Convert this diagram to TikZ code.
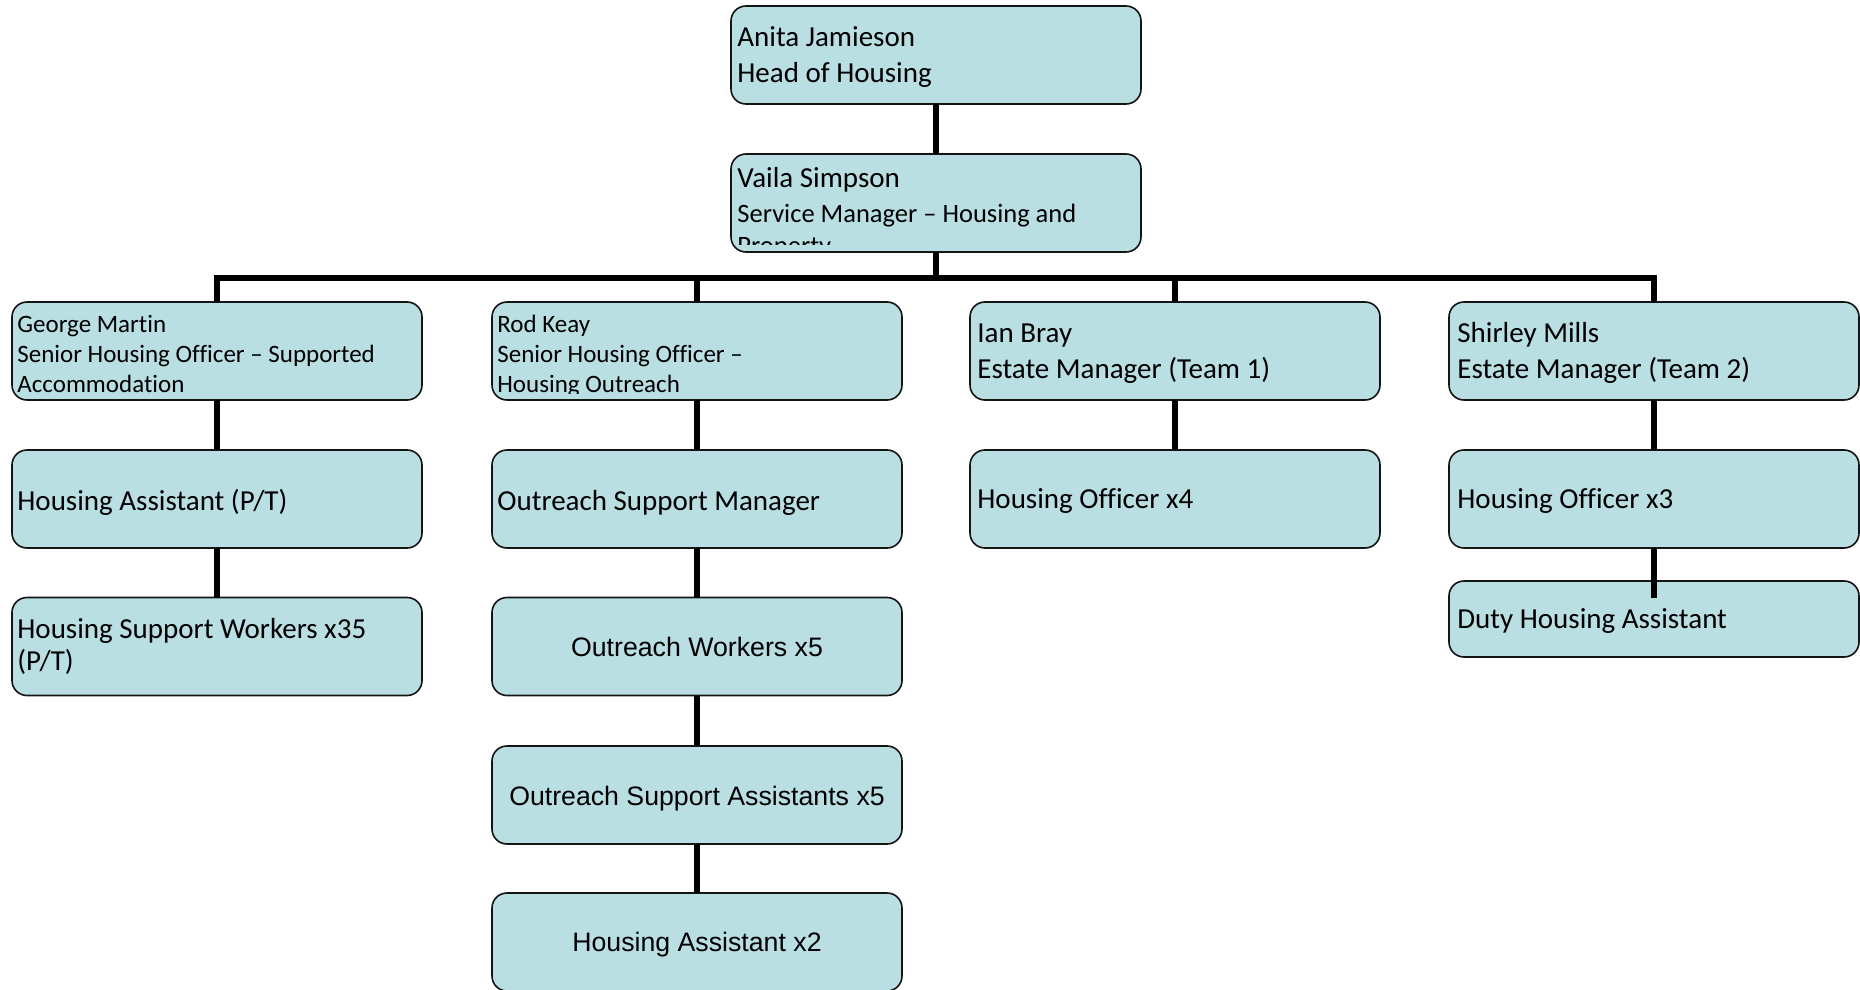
\documentclass[tikz,border=0pt]{standalone}
\usepackage{fontspec}
\newfontfamily\carl[Ligatures=NoCommon]{Carlito}
\newfontfamily\arl{Liberation Sans}
\definecolor{boxfill}{RGB}{185,223,227}
\definecolor{edge}{RGB}{20,20,20}
\begin{document}
\begin{tikzpicture}[x=0.5pt,y=-0.5pt,
 box/.style={draw=edge, line width=0.8pt, fill=boxfill, rounded corners=7.5pt, inner sep=0pt, outer sep=0pt, minimum width=205pt, minimum height=49pt},
 link/.style={line width=3pt, line join=miter},
 txt/.style={inner sep=0pt, anchor=base west, text=black},
 ctxt/.style={inner sep=0pt, anchor=base, text=black, font=\arl\fontsize{13.35}{16}\selectfont},
 big/.style={font=\carl\fontsize{14.5}{17}\selectfont},
 mid/.style={font=\carl\fontsize{13.25}{16}\selectfont},
 small/.style={font=\carl\fontsize{12.5}{15}\selectfont}]
\fill[white] (0,0) rectangle (1860,990);
\useasboundingbox (0,0) rectangle (1860,990);

% boxes (positions in px of the reference)
\coordinate (bar) at (936,278);
\coordinate (dutyend) at (1654,598);

\node[box] (anita) at (936,55) {};
\node[box] (vaila) at (936,203) {};
\node[box] (george) at (217,351) {};
\node[box] (rod) at (697,351) {};
\node[box] (ian) at (1175,351) {};
\node[box] (shirley) at (1654,351) {};
\node[box] (hasst) at (217,499) {};
\node[box] (osm) at (697,499) {};
\node[box] (hoff4) at (1175,499) {};
\node[box] (hoff3) at (1654,499) {};
\node[box] (hsw) at (217,646.5) {};
\node[box] (ow) at (697,646.5) {};
\node[box] (osa) at (697,795) {};
\node[box] (ha2) at (697,942) {};
\node[box, minimum height=38pt] (duty) at (1654,619) {};

% connectors
\draw[link] (anita.south) -- (vaila.north);
\draw[link] (vaila.south) -- (bar) -| (george.north);
\draw[link] (bar) -| (rod.north);
\draw[link] (bar) -| (ian.north);
\draw[link] (bar) -| (shirley.north);
\draw[link] (george.south) -- (hasst.north);
\draw[link] (hasst.south) -- (hsw.north);
\draw[link] (rod.south) -- (osm.north);
\draw[link] (osm.south) -- (ow.north);
\draw[link] (ow.south) -- (osa.north);
\draw[link] (osa.south) -- (ha2.north);
\draw[link] (ian.south) -- (hoff4.north);
\draw[link] (shirley.south) -- (hoff3.north);
\draw[link] (hoff3.south) -- (dutyend);

% texts
\node[txt, big] (anitaA) at (737,47) {Anita Jamieson};
\node[txt, big] (anitaB) at (737,83) {Head of Housing};

\begin{scope}
\clip ([yshift=-3.5pt]vaila.north west) rectangle ([yshift=3.5pt]vaila.south east);
\node[txt, big] (vailaA) at (737,188) {Vaila Simpson};
\node[txt, mid] (vailaB) at (737,222) {Service Manager – Housing and};
\node[txt, mid] (vailaC) at (737,255) {Property};
\end{scope}

\begin{scope}
\clip ([yshift=-3.5pt]george.north west) rectangle ([yshift=3.5pt]george.south east);
\node[txt, small] (georgeA) at (17,332) {George Martin};
\node[txt, small] (georgeB) at (17,362) {Senior Housing Officer – Supported};
\node[txt, small] (georgeC) at (17,392) {Accommodation};
\end{scope}

\begin{scope}
\clip ([yshift=-3.5pt]rod.north west) rectangle ([yshift=3.5pt]rod.south east);
\node[txt, small] (rodA) at (497,332) {Rod Keay};
\node[txt, small] (rodB) at (497,362) {Senior Housing Officer –};
\node[txt, small] (rodC) at (497,392) {Housing Outreach};
\end{scope}

\node[txt, big] (ianA) at (977,343) {Ian Bray};
\node[txt, big] (ianB) at (977,378) {Estate Manager (Team 1)};
\node[txt, big] (shirleyA) at (1457,343) {Shirley Mills};
\node[txt, big] (shirleyB) at (1457,378) {Estate Manager (Team 2)};

\node[txt, big] (hasstT) at (17,510) {Housing Assistant (P/T)};
\node[txt, big] (osmT) at (497,510) {Outreach Support Manager};
\node[txt, big] (hoff4T) at (977,508) {Housing Officer x4};
\node[txt, big] (hoff3T) at (1457,508) {Housing Officer x3};

\node[txt, big] (hswA) at (17,638) {Housing Support Workers x35};
\node[txt, big] (hswB) at (17,670) {(P/T)};
\node[txt, big] (dutyT) at (1457,628) {Duty Housing Assistant};

\node[ctxt] (owT) at (697,656) {Outreach Workers x5};
\node[ctxt] (osaT) at (697,805.5) {Outreach Support Assistants x5};
\node[ctxt] (ha2T) at (697,951.5) {Housing Assistant x2};
\end{tikzpicture}
\end{document}
